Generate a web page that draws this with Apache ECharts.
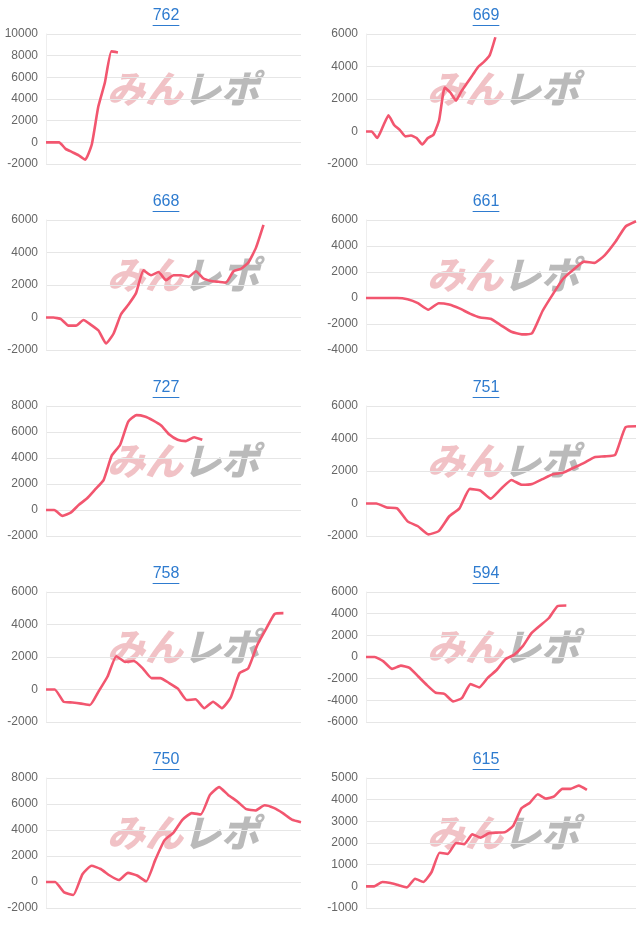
<!DOCTYPE html>
<html><head><meta charset="utf-8">
<script src="https://cdn.jsdelivr.net/npm/echarts@6/dist/echarts.min.js"></script>
<style>body{margin:0;background:#fff;width:640px;height:931px;position:relative;overflow:hidden}.p{position:absolute;width:320px;height:186px}</style>
</head><body>
<script>
const titles = ['762','669','668','661','727','751','758','594','750','615'];
const lengths = [40,49,35,27,32,27,30,32,29,34];
const yMin = [-2000,-2000,-2000,-4000,-2000,-2000,-2000,-6000,-2000,-1000];
const yMax = [10000,6000,6000,6000,8000,6000,6000,6000,8000,5000];
const yStep = [2000,2000,2000,2000,2000,2000,2000,2000,2000,1000];
const s762 = [0,0,0,-600,-900,-1200,-1600,-200,3300,5500,8400,8300];
const s669 = [0,0,-400,300,1000,400,100,-300,-250,-400,-800,-400,-200,700,2700,2400,1900,2500,3000,3500,4000,4300,4700,5800];
const s668 = [0,0,-100,-500,-500,-150,-450,-800,-1600,-1000,200,800,1500,2900,2600,2800,2300,2600,2600,2500,2850,2400,2250,2200,2150,2850,3000,3400,4300,5700];
const s661 = [0,0,0,0,-100,-400,-900,-400,-500,-800,-1200,-1500,-1600,-2100,-2600,-2800,-2700,-1000,300,1500,2200,2800,2700,3300,4300,5500,5900];
const s727 = [0,0,-450,-200,400,900,1600,2300,4200,5000,6800,7300,7200,6900,6500,5800,5400,5300,5600,5400];
const s751 = [0,0,-250,-300,-1100,-1400,-1900,-1700,-800,-300,900,800,300,900,1450,1150,1200,1500,1800,1900,2200,2500,2850,2900,3000,4700,4750];
const s758 = [0,0,-750,-800,-870,-950,-100,800,2050,1700,1750,1300,700,700,400,50,-650,-600,-1150,-750,-1150,-500,1000,1300,2700,3700,4650,4700];
const s594 = [0,0,-400,-1100,-800,-1000,-1800,-2600,-3300,-3400,-4100,-3800,-2500,-2800,-1900,-1200,-200,200,1000,2200,2900,3600,4700,4750];
const s750 = [0,0,-800,-1000,600,1250,1000,500,150,700,500,50,1700,3200,3800,4800,5300,5200,6700,7300,6700,6200,5600,5500,5900,5700,5300,4800,4600];
const s615 = [0,0,200,150,50,-50,350,200,650,1550,1500,2000,1950,2400,2250,2450,2480,2500,2800,3600,3850,4250,4050,4150,4500,4500,4650,4450];
const series = [s762,s669,s668,s661,s727,s751,s758,s594,s750,s615];

titles.forEach((t,i)=>{
  const d=document.createElement('div');d.className='p';
  const col=i%2,row=Math.floor(i/2);
  d.style.left=(col*320)+'px';d.style.top=(row*186)+'px';
  document.body.appendChild(d);
  const c=echarts.init(d);
  const cats=Array.from({length:lengths[i]},(_,k)=>String(k+1));
  const tw=t.length*8.9;
  c.setOption({
    animation:false,
    graphic:[
      {type:'text',z:10,x:166,y:8,style:{text:t,textAlign:'center',fill:'#2e7bcf',fontSize:16,fontFamily:'Liberation Sans, Arial'}},
      {type:'line',z:10,shape:{x1:166-tw/2,y1:25.5,x2:166+tw/2,y2:25.5},style:{stroke:'#2e7bcf',lineWidth:1}},
      {type:'text',z:-10,x:183,y:89,style:{text:'{a|みん}{b|レポ}',textAlign:'center',textVerticalAlign:'middle',rich:{
        a:{fontSize:38,fontWeight:900,fontStyle:'italic',fill:'rgba(222,110,120,0.42)',fontFamily:'Noto Sans CJK JP'},
        b:{fontSize:38,fontWeight:900,fontStyle:'italic',fill:'rgba(130,130,130,0.55)',fontFamily:'Noto Sans CJK JP'}}}}
    ],
    grid:{left:46,right:col?4:19,top:34,bottom:22},
    xAxis:{type:'category',data:cats,boundaryGap:false,axisLabel:{show:false},axisTick:{show:false},
      axisLine:{show:false},splitLine:{show:false}},
    yAxis:{type:'value',min:yMin[i],max:yMax[i],interval:yStep[i],
      axisLabel:{color:'#666',fontSize:12,fontFamily:'Liberation Sans, Arial',margin:8,formatter:v=>String(v)},
      axisLine:{show:true,lineStyle:{color:'#eeeeee'}},
      splitLine:{lineStyle:{color:'#e6e6e6'}}},
    series:[{type:'line',data:series[i],showSymbol:false,smooth:0.15,z:5,
      lineStyle:{color:'#f2566f',width:2.6}}]
  });
});
</script>
</body></html>
